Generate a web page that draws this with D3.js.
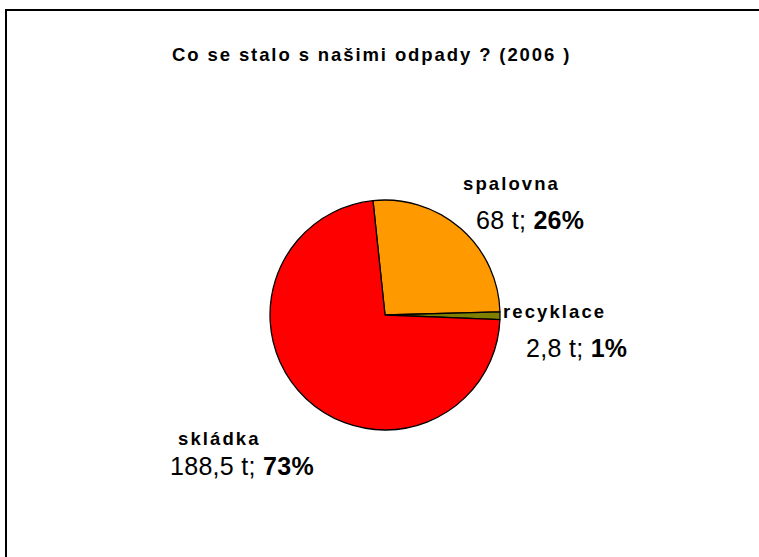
<!DOCTYPE html>
<html>
<head>
<meta charset="utf-8">
<script src="https://cdn.jsdelivr.net/npm/d3@7"></script>
<style>
  body { margin: 0; background: #fff; }
  svg { display: block; font-family: Arial, "Liberation Sans", sans-serif; }
</style>
</head>
<body>
<svg id="chart" width="759" height="557"></svg>
<script>
'use strict'

// data
var categories = ['spalovna', 'recyklace', 'skládka'];
var tons = [68, 2.8, 188.5];
var tonLabels = ['68 t; ', '2,8 t; ', '188,5 t; '];
var pctLabels = ['26%', '1%', '73%'];
var colors = ['#FF9900', '#808000', '#FF0000'];
var title = 'Co se stalo s našimi odpady ? (2006 )';

// where each label sits, relative to the pie centre
var labelOffsets = [
    { nx: 78, ny: -125, vx: 91, vy: -86 },
    { nx: 118, ny: 3, vx: 141, vy: 42 },
    { nx: -207, ny: 130, vx: -215, vy: 160 }
];

var cx = 385, cy = 315, radius = 115;
var start = -6 * Math.PI / 180;

var svg = d3.select('#chart');

// frame
svg.append('rect')
    .attr('x', 6).attr('y', 10)
    .attr('width', 800).attr('height', 600)
    .attr('fill', 'none')
    .attr('stroke', '#000')
    .attr('stroke-width', 2);

svg.append('text')
    .attr('x', 172).attr('y', 61)
    .attr('font-size', 18.5)
    .attr('font-weight', 'bold')
    .attr('letter-spacing', 1.9)
    .text(title);

var data = categories.map(function(c, i){
    return { name: c, value: tons[i], color: colors[i], i: i };
});

var pie = d3.pie()
    .sort(null)
    .value(function(d){ return d.value; })
    .startAngle(start)
    .endAngle(start + 2 * Math.PI);

var arc = d3.arc().innerRadius(0).outerRadius(radius);

var g = svg.append('g').attr('transform', 'translate(' + cx + ',' + cy + ')');

g.selectAll('path')
    .data(pie(data))
    .enter().append('path')
    .attr('d', arc)
    .attr('fill', function(d){ return d.data.color; })
    .attr('stroke', '#000')
    .attr('stroke-width', 1.3)
    .attr('stroke-linejoin', 'round');

var labels = g.selectAll('g.lbl')
    .data(data)
    .enter().append('g')
    .attr('class', 'lbl');

labels.append('text')
    .attr('x', function(d){ return labelOffsets[d.i].nx; })
    .attr('y', function(d){ return labelOffsets[d.i].ny; })
    .attr('font-size', 18.5)
    .attr('font-weight', 'bold')
    .attr('letter-spacing', 2.1)
    .text(function(d){ return d.name; });

var val = labels.append('text')
    .attr('x', function(d){ return labelOffsets[d.i].vx; })
    .attr('y', function(d){ return labelOffsets[d.i].vy; })
    .attr('font-size', 25)
    .attr('letter-spacing', 0.3);

val.append('tspan')
    .text(function(d){ return tonLabels[d.i]; });
val.append('tspan')
    .attr('font-weight', 'bold')
    .text(function(d){ return pctLabels[d.i]; });
</script>
</body>
</html>
